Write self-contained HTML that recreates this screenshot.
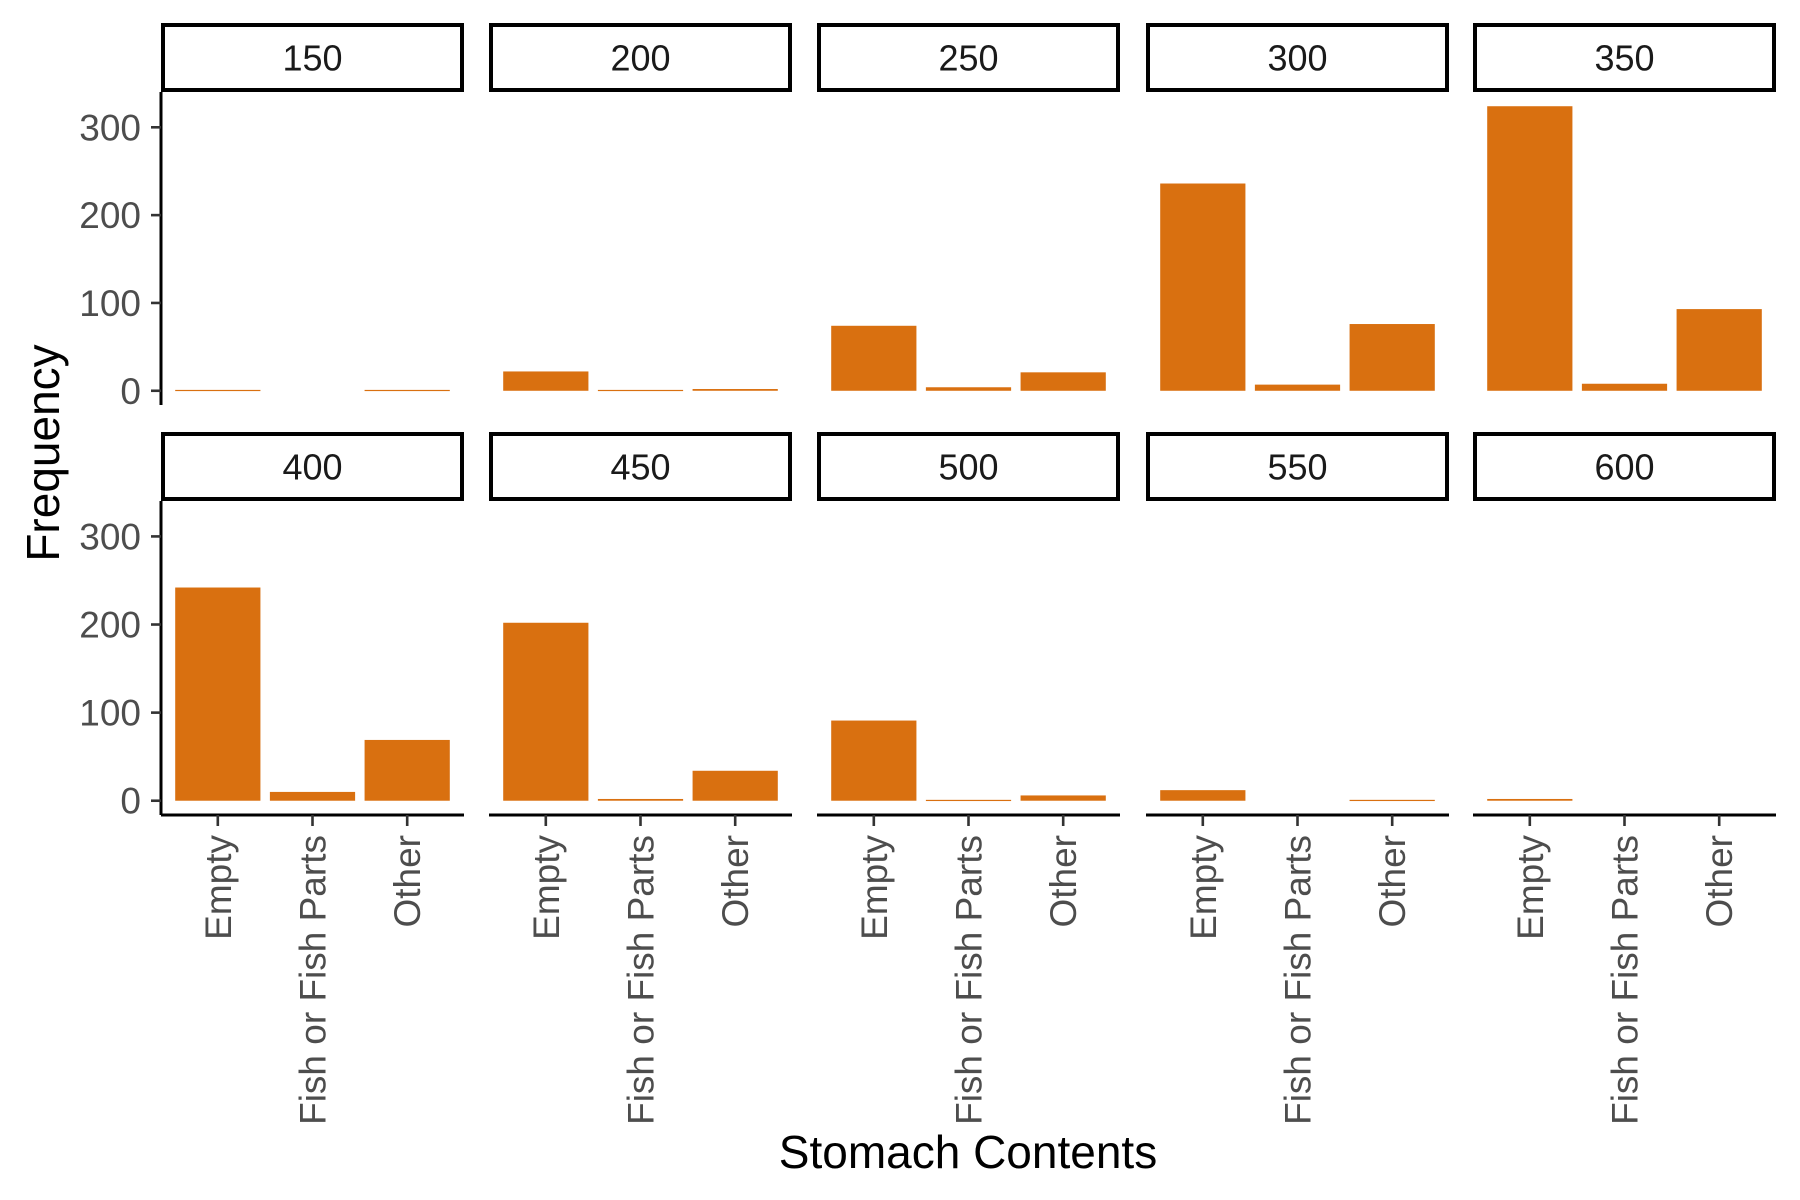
<!DOCTYPE html>
<html><head><meta charset="utf-8"><style>
html,body{margin:0;padding:0;background:#fff;}
svg{display:block;font-family:"Liberation Sans",Arial,sans-serif;}
</style></head><body>
<svg id="chart" width="1800" height="1200" viewBox="0 0 1800 1200"></svg>
<script>
const facets = ["150","200","250","300","350","400","450","500","550","600"];
const categories = ["Empty","Fish or Fish Parts","Other"];
const emptyValues = [1,22,74,236,324,242,202,91,12,2];
const fishValues = [0,1,4,7,8,10,2,1,0,0];
const otherValues = [1,2,21,76,93,69,34,6,1,0];
const yTicks = [0,100,200,300];

const NS="http://www.w3.org/2000/svg";
const svg=document.getElementById('chart');
function mk(tag,attrs,parent){const e=document.createElementNS(NS,tag);for(const k in attrs)e.setAttribute(k,attrs[k]);(parent||svg).appendChild(e);return e;}

const colX=[161,489,817,1146,1473];
const panelW=303;
const rows=[{stripTop:23,top:92,bottom:405},{stripTop:432,top:501,bottom:815}];
const yMin=-16.2,yMax=340.2;
function yScale(v,r){return r.bottom-(v-yMin)/(yMax-yMin)*(r.bottom-r.top);}
function xScale(i,x0){const unit=panelW/3.2;return x0+(i+1-0.4)*unit;}
const barW=0.9*panelW/3.2;

facets.forEach((f,fi)=>{
  const r=rows[Math.floor(fi/5)];
  const x0=colX[fi%5];
  const g=mk('g',{});
  
  
  const strip=mk('rect',{x:x0+2,y:r.stripTop+2,width:panelW-4,height:r.top-r.stripTop-4,fill:'#fff',stroke:'#000','stroke-width':4},g);
  
  
  const st=mk('text',{x:x0+panelW/2,y:(r.stripTop+r.top)/2+13,'text-anchor':'middle','font-size':36,fill:'#1a1a1a'},g);
  st.textContent=f;
  
  
  const vals=[emptyValues[fi],fishValues[fi],otherValues[fi]];
  vals.forEach((v,ci)=>{
    if(v<=0)return;
    const cx=xScale(ci,x0);
    const y1=yScale(v,r),y0=yScale(0,r);
    const b=mk('rect',{x:cx-barW/2,y:y1,width:barW,height:Math.max(y0-y1,1.2),fill:'#D97010'},g);
    
    
  });
  if(fi%5===0){
    mk('line',{x1:x0,x2:x0,y1:r.top,y2:r.bottom,stroke:'#000','stroke-width':3},g);
    yTicks.forEach(t=>{
      const y=yScale(t,r);
      mk('line',{x1:x0-10,x2:x0,y1:y,y2:y,stroke:'#333','stroke-width':2.6},g);
      const tl=mk('text',{x:x0-20,y:y+13,'text-anchor':'end','font-size':37,fill:'#4D4D4D'},g);
      tl.textContent=t;
      
      
    });
  }
  if(fi>=5){
    mk('line',{x1:x0,x2:x0+panelW,y1:r.bottom,y2:r.bottom,stroke:'#000','stroke-width':3},g);
    categories.forEach((c,ci)=>{
      const cx=xScale(ci,x0);
      mk('line',{x1:cx,x2:cx,y1:r.bottom,y2:r.bottom+11,stroke:'#333','stroke-width':2.6},g);
      const tl=mk('text',{x:0,y:0,'text-anchor':'end','font-size':37,fill:'#4D4D4D',transform:'translate('+(cx+13)+','+(r.bottom+20)+') rotate(-90)'},g);
      tl.textContent=c;
      
      
    });
  }
});
const xt=mk('text',{x:968,y:1168,'text-anchor':'middle','font-size':46,fill:'#000'});
xt.textContent='Stomach Contents';


const yt=mk('text',{x:0,y:0,'text-anchor':'middle','font-size':46,fill:'#000',transform:'translate(59,453) rotate(-90)'});
yt.textContent='Frequency';


</script>
</body></html>
